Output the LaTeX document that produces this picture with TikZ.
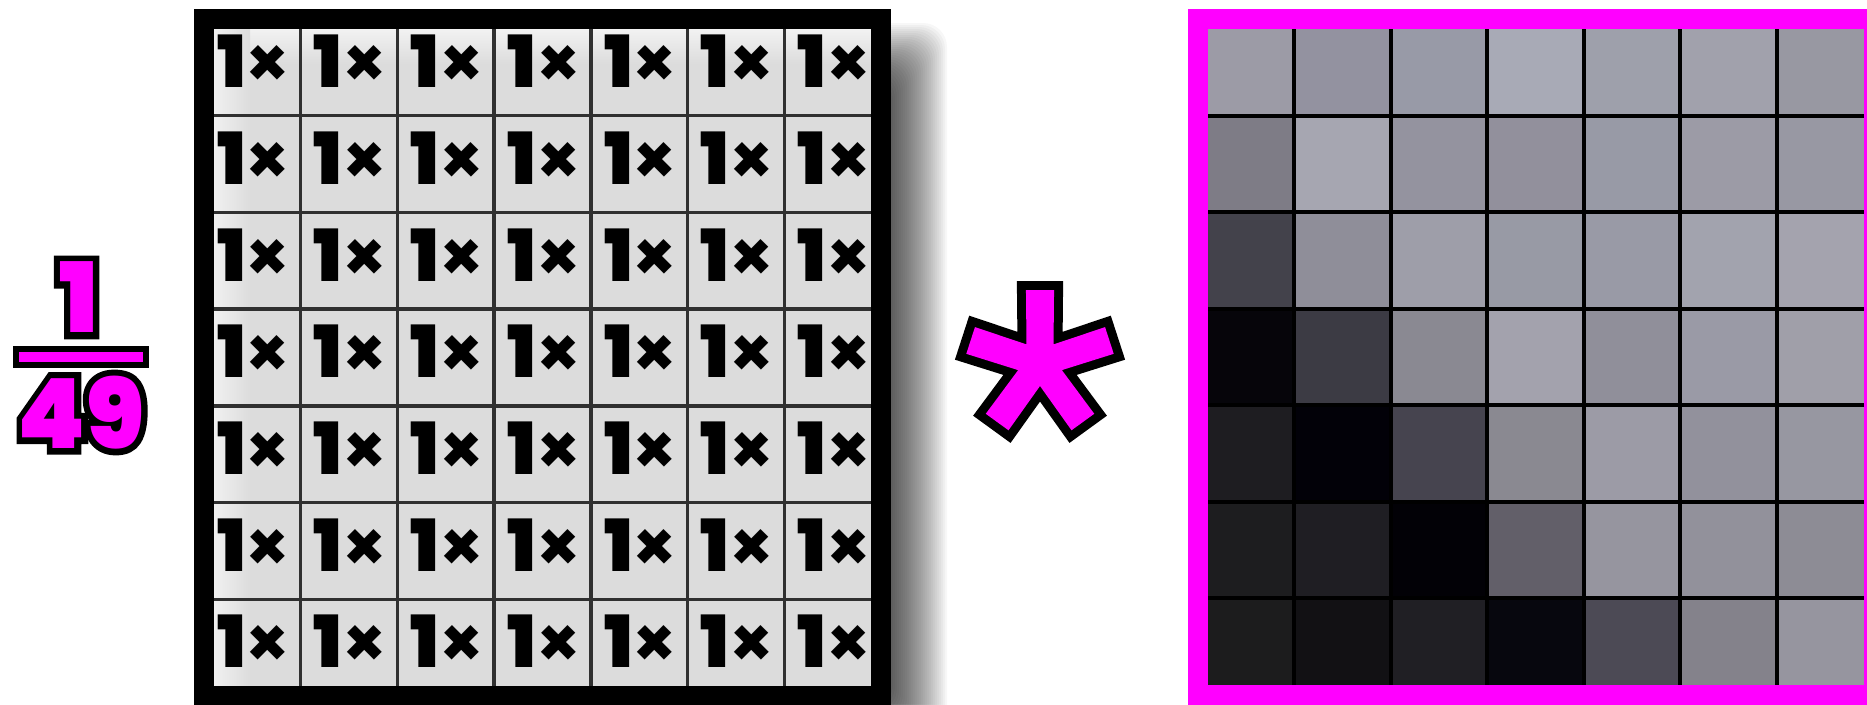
\documentclass[tikz,border=0pt]{standalone}
\usepackage{fontspec}
\newfontfamily\popb{Poppins Black}
\newfontfamily\popout{Poppins Black}[RawFeature={embolden=13}]
\newfontfamily\popx{Poppins Bold}
\definecolor{mag}{HTML}{FF00FF}
\definecolor{cellgray}{HTML}{DCDCDC}
\definecolor{klinec}{HTML}{303030}
\newcommand\onex{1\hspace{0pt}{\popx\fontsize{70}{70}\selectfont ×}}
\tikzset{
  kline/.style={klinec, line width=3.5},
  gline/.style={black, line width=4},
  cellt/.style={inner sep=0, outer sep=0, font=\popb\fontsize{72}{72}\selectfont},
  fract/.style={inner sep=0, outer sep=0, font=\popb\fontsize{97}{97}\selectfont},
  fracto/.style={inner sep=0, outer sep=0, font=\popout\fontsize{97}{97}\selectfont},
}
\begin{document}
\begin{tikzpicture}[x=1pt,y=-1pt]
\useasboundingbox (0,0) rectangle (1867,704);
\clip (0,0) rectangle (1867,704);
\fill[white] (0,0) rectangle (1867,704);

% ---------- drop shadow of kernel ----------
\foreach \e in {-32,-30,...,32} {
  \fill[black, opacity=0.031, rounded corners=24] ({234-\e},{55-\e}) rectangle ({915+\e},{730+\e});
}

% ---------- kernel ----------
\fill[cellgray] (204,19) rectangle (881,696);
\shade[top color=white!80!cellgray, bottom color=cellgray] (204,19) rectangle (881,64);
\shade[left color=white!75!cellgray, right color=cellgray] (204,19) rectangle (250,696);
\foreach \i in {1,...,6} {
  \draw[kline] ({204+\i*96.714},19) -- ({204+\i*96.714},696);
  \draw[kline] (204,{19+\i*96.714}) -- (881,{19+\i*96.714});
}
\draw[black, line width=20] (204,19) rectangle (881,696);
\foreach \i in {0,...,6} {
  \foreach \j in {0,...,6} {
    \node[cellt] (k\i\j) at ({204+(\i+0.5)*96.714+1.5},{19+(\j+0.5)*96.714-6}) {\onex};
  }
}

% ---------- fraction 1/49 ----------
\node[fracto, text=black] (fnumo) at (78.5,297.5) {1};
\node[fracto, text=black] (fdeno) at (81,412.5) {49};
\node[fract, text=mag] (fnum) at (78.5,297.5) {1};
\node[fract, text=mag] (fden) at (81,412.5) {49};
\fill[black] (13,346) rectangle (149,368);
\fill[mag] (19,352) rectangle (143,362);

% ---------- asterisk ----------
\pgfmathsetmacro\R{74.3}
\pgfmathsetmacro\dl{10.9}
\pgfmathsetmacro\ri{23}
\path[fill=mag, preaction={draw=black, line width=18, line join=miter}]
  ([shift={(1040,363)}]{-90-\dl}:\R)
  \foreach \k in {0,...,4} {
    -- ([shift={(1040,363)}]{-90+72*\k-\dl}:\R)
    -- ([shift={(1040,363)}]{-90+72*\k+\dl}:\R)
    -- ([shift={(1040,363)}]{-90+72*\k+36}:\ri)
  } -- cycle;

% ---------- image patch ----------
\foreach \row [count=\j from 0] in {
  {9C9BA6,9392A0,989AA7,A8AAB6,9EA0AB,A1A1AC,9898A2},
  {7E7C86,A6A6B1,94939F,92909C,989AA6,9C9BA6,9898A3},
  {43424B,8F8E99,9E9EA9,989AA5,999AA6,A2A3AE,A4A3AE},
  {06050A,3C3B44,8A8992,A3A2AD,908F9A,9A9AA6,A09FA9},
  {1E1D21,020108,46444F,8A8991,9C9BA6,92919C,9797A1},
  {1D1D1F,1F1E23,020106,625F69,96959F,92919B,8D8C95},
  {1C1C1D,121114,201F24,07070E,4C4A55,84828B,96959F}} {
  \foreach \c [count=\i from 0] in \row {
    \definecolor{tmpc}{HTML}{\c}
    \fill[tmpc] ({1197.5+\i*96.57},{19+\j*96.57}) rectangle ({1197.5+(\i+1)*96.57},{19+(\j+1)*96.57});
  }
}
\foreach \i in {1,...,6} {
  \draw[gline] ({1197.5+\i*96.57},19) -- ({1197.5+\i*96.57},695);
  \draw[gline] (1197.5,{19+\i*96.57}) -- (1873.5,{19+\i*96.57});
}
\draw[mag, line width=20] (1197.5,19) rectangle (1873.5,695);
\end{tikzpicture}
\end{document}
